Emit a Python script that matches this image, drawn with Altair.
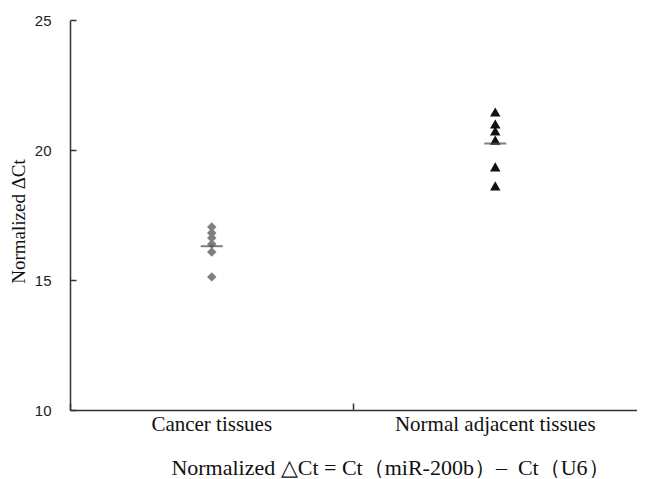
import altair as alt
import pandas as pd

categories = ["Cancer tissues", "Normal adjacent tissues"]
cancer_values = [17.04, 16.81, 16.62, 16.38, 16.08, 15.12]
normal_values = [21.46, 21.0, 20.73, 20.38, 19.35, 18.62]
mean_values = [16.3, 20.25]

pts = pd.DataFrame(
    {"group": [categories[0]] * len(cancer_values) + [categories[1]] * len(normal_values),
     "value": cancer_values + normal_values}
)
means = pd.DataFrame({"group": categories, "value": mean_values})

W, H = 567, 390
serif = "Liberation Serif"
sans = "Liberation Sans"

xscale = alt.Scale(domain=categories, paddingInner=0, paddingOuter=0)
yscale = alt.Scale(domain=[10, 25], nice=False, zero=False)

points = alt.Chart(pts).mark_point(filled=True, opacity=1).encode(
    x=alt.X("group:N", scale=xscale, sort=categories,
            axis=alt.Axis(title="Normalized △Ct = Ct（miR-200b）–\u00a0 Ct（U6）",
                          titleX=320, titleY=64, titleBaseline="alphabetic",
                          titleAnchor="middle", titleAlign="center",
                          labelFont=serif, labelFontSize=21, labelColor="#111",
                          labelAngle=0, labelPadding=3, labelBaseline="top", labelLimit=400,
                          ticks=False, tickSize=0, grid=False,
                          domainColor="#333", domainWidth=1.5)),
    y=alt.Y("value:Q", scale=yscale,
            axis=alt.Axis(title="Normalized ΔCt", values=[10, 15, 20, 25],
                          titleX=-52, titleY=201, titleBaseline="middle",
                          titleAngle=270, titleAlign="center",
                          labelFont=sans, labelFontSize=15, labelColor="#222",
                          labelPadding=19, ticks=False, tickSize=0, grid=False,
                          domainColor="#333", domainWidth=1.5)),
    shape=alt.Shape("group:N", scale=alt.Scale(domain=categories, range=["diamond", "triangle-up"]), legend=None),
    color=alt.Color("group:N", scale=alt.Scale(domain=categories, range=["#7f7f7f", "#111111"]), legend=None),
    size=alt.Size("group:N", scale=alt.Scale(domain=categories, range=[90, 110]), legend=None),
)

mean_ticks = alt.Chart(means).mark_tick(size=22, thickness=2, color="#4a4a4a").encode(
    x=alt.X("group:N", scale=xscale, sort=categories,
            axis=alt.Axis(orient="top", offset=-H, labels=False, domain=False, title=None,
                          bandPosition=0, ticks=True, tickSize=7, tickColor="#333",
                          tickWidth=1.5, grid=False)),
    y=alt.Y("value:Q", scale=yscale,
            axis=alt.Axis(orient="right", offset=-W, labels=False, domain=False, title=None,
                          values=[10, 15, 20, 25], ticks=True, tickSize=6, tickColor="#333",
                          tickWidth=1.5, grid=False)),
)

chart = alt.layer(points, mean_ticks).resolve_axis(x="independent", y="independent").properties(
    width=W, height=H,
    autosize=alt.AutoSizeParams(type="none"),
    padding={"left": 62, "top": 12, "right": 0, "bottom": 68},
    background="white",
).configure_view(stroke=None).configure_axisX(
    titleFont=serif, titleFontSize=22, titleFontWeight="normal", titleColor="#111", titleLimit=620
).configure_axisY(
    titleFont=serif, titleFontSize=19, titleFontWeight="normal", titleColor="#111", titleLimit=400
)

chart.save("out.html", embed_options={"renderer": "svg", "actions": False})
